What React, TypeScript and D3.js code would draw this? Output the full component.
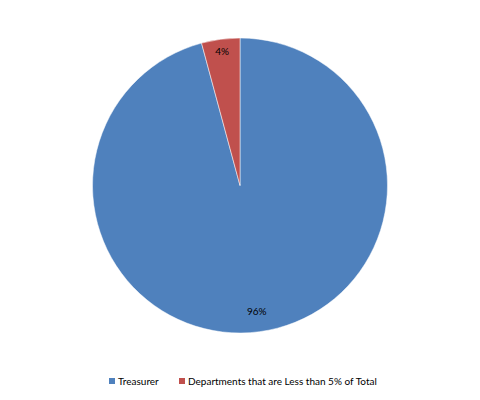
import React from "react";
import * as d3 from "d3";

const categories = ["Treasurer", "Departments that are Less than 5% of Total"];
const values = [95.8, 4.2];
const labels = ["96%", "4%"];
const colors = ["#4F81BD", "#C0504D"];

export default function App() {
  const width = 480;
  const height = 400;
  const cx = 240;
  const cy = 185.5;
  const R = 147.5;
  const labelR = [0.86, 0.92];
  const pie = d3.pie<number>().sort(null).value((d) => d);
  const arcs = pie(values);
  const arc = d3.arc<d3.PieArcDatum<number>>().innerRadius(0).outerRadius(R);
  const font = "Lato, 'Liberation Sans', sans-serif";
  const legendX = [109, 179];
  return (
    <svg width={width} height={height} style={{ position: "absolute", left: 0, top: 0 }}>
      <rect width={width} height={height} fill="#fff" />
      <g transform={`translate(${cx},${cy})`}>
        {arcs.map((a, i) => (
          <path key={i} d={arc(a) || ""} fill={colors[i]} stroke="#fff" strokeWidth={0.5} />
        ))}
        {arcs.map((a, i) => {
          const la = d3.arc<d3.PieArcDatum<number>>().innerRadius(R * labelR[i]).outerRadius(R * labelR[i]);
          const [x, y] = la.centroid(a);
          return (
            <text key={i} x={x} y={y} textAnchor="middle" dominantBaseline="central" fontFamily={font} fontSize={10} fill="#000">
              {labels[i]}
            </text>
          );
        })}
      </g>
      {categories.map((c, i) => (
        <g key={c}>
          <rect x={legendX[i]} y={378} width={6} height={6} fill={colors[i]} />
          <text x={legendX[i] + 9} y={384.5} fontFamily={font} fontSize={10} fill="#000">
            {c}
          </text>
        </g>
      ))}
    </svg>
  );
}
